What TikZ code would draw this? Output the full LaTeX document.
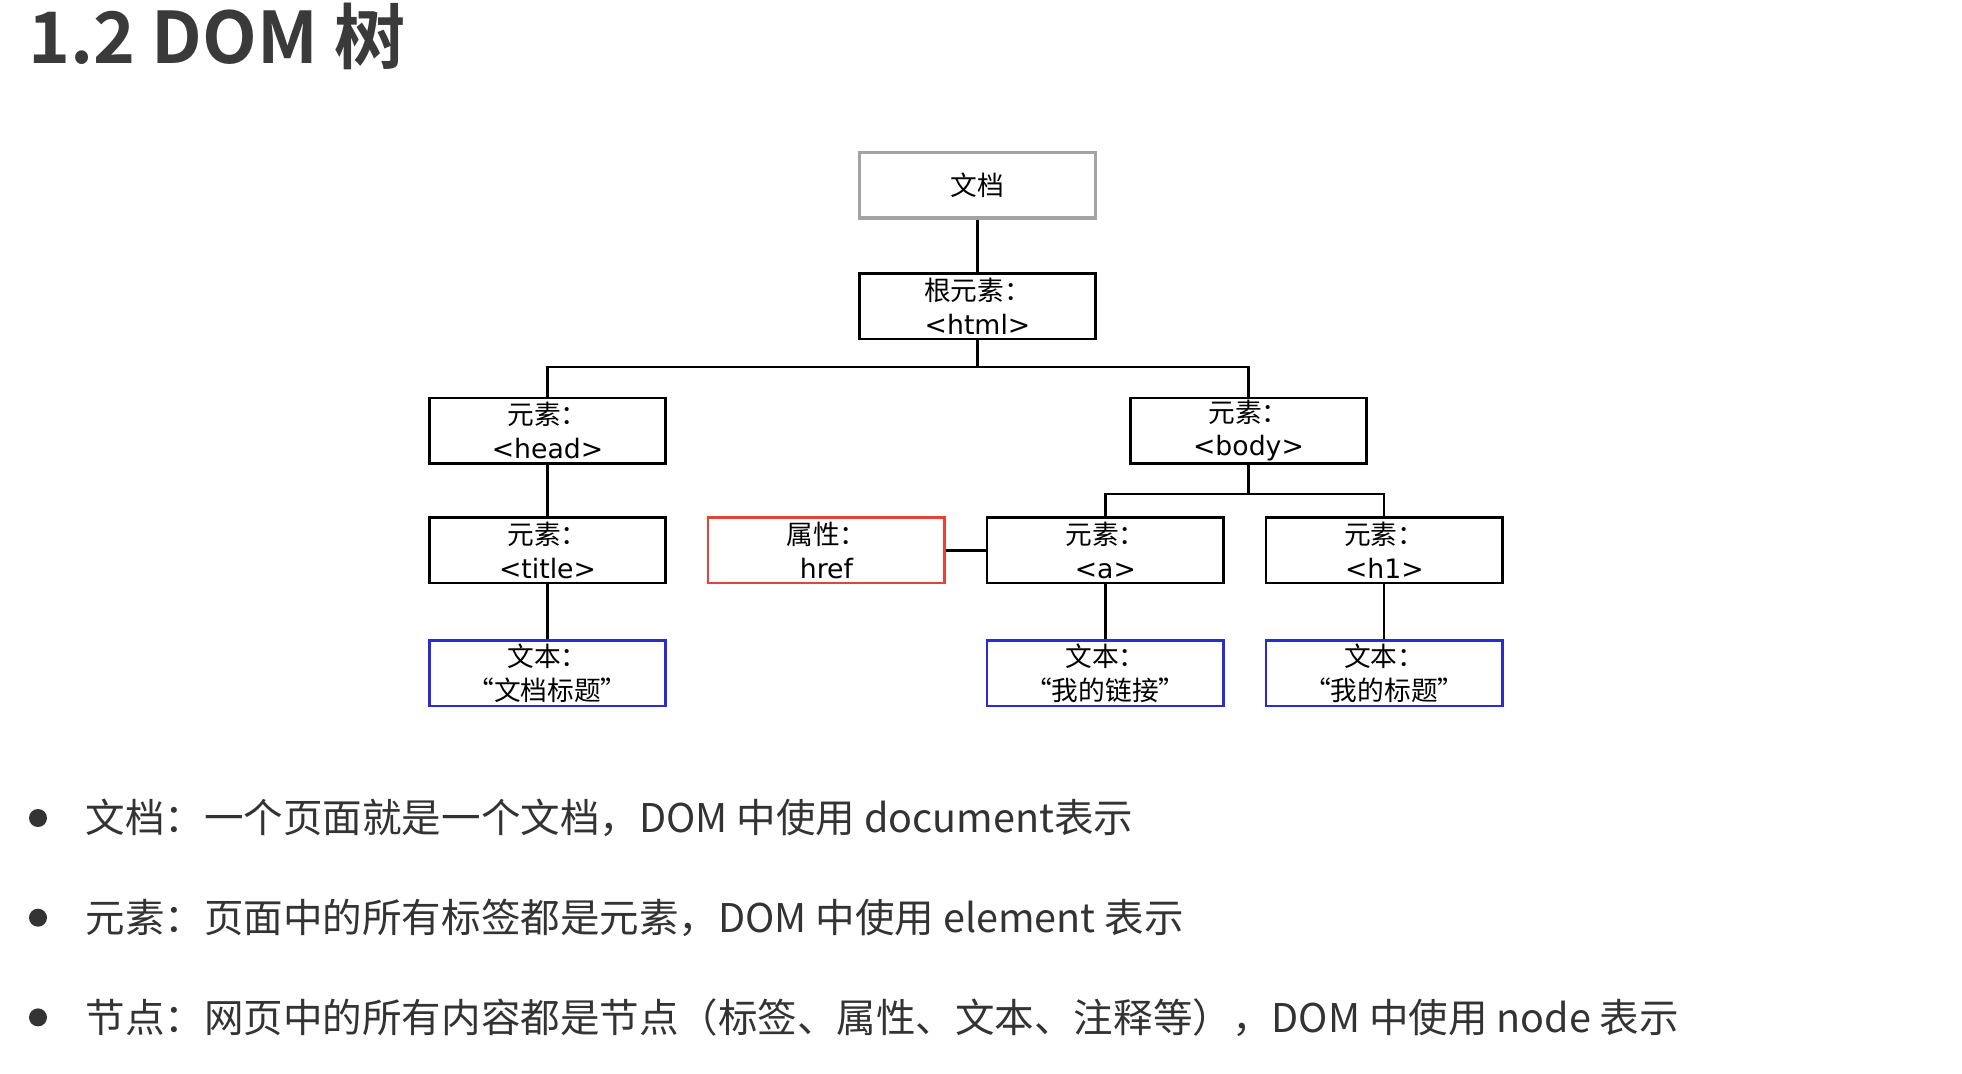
\documentclass[tikz,border=0pt]{standalone}
\usepackage{fontspec}
\setmainfont{Noto Sans CJK SC}[BoldFont={Noto Sans CJK SC Bold}]
\newfontfamily\tagfont{DejaVu Sans}
\usepackage{xcolor}
\usepackage{tikz}
\usetikzlibrary{positioning}
\definecolor{inkgray}{HTML}{333333}
\definecolor{titlegray}{HTML}{3A3A3A}
\definecolor{docgray}{HTML}{A3A3A3}
\definecolor{attred}{HTML}{E5423A}
\definecolor{txtblue}{HTML}{2B2BD6}
\newcommand{\tagname}[1]{{\tagfont <#1>}}
\tikzset{
  elbox/.style={rectangle, draw=black, line width=0.05cm, fill=white,
                minimum width=4.73cm, minimum height=1.31cm, align=center,
                inner sep=0pt, font=\fontsize{15.2}{19.3}\selectfont},
  docbox/.style={elbox, draw=docgray, line width=0.07cm},
  attbox/.style={elbox, draw=attred},
  txtbox/.style={elbox, draw=txtblue},
  link/.style={line width=0.045cm, draw=black},
}

\begin{document}
\begin{tikzpicture}[
    x=0.02cm, y=-0.02cm,
    ttl/.style={font=\fontsize{40.5}{48}\selectfont\bfseries, text=titlegray,
                inner sep=0pt},
    dot/.style={circle, fill=inkgray, minimum size=0.36cm, inner sep=0pt},
    item/.style={font=\fontsize{22.5}{28}\selectfont, text=inkgray,
                 inner sep=0pt},
  ]
  \useasboundingbox[fill=white] (0,0) rectangle (1962,1073);
  \node[ttl, anchor=base west] (ttl) at (28,63) {1.2 DOM 树};

  \node[docbox] (doc) at (977.5,185) {文档};
  \node[elbox, below=1.06cm of doc] (html) {根元素：\\\tagname{html}};
  \node[elbox] (head) at (547.5,430.5) {元素：\\\tagname{head}};
  \node[elbox] (body) at (1248.5,430.5) {元素：\\\tagname{body}};
  \node[elbox, below=1.04cm of head] (title) {元素：\\\tagname{title}};
  \node[attbox, right=0.8cm of title] (href) {属性：\\{\tagfont href}};
  \node[elbox, right=0.8cm of href] (a) {元素：\\\tagname{a}};
  \node[elbox, right=0.8cm of a] (h1) {元素：\\\tagname{h1}};
  \node[txtbox, below=1.1cm of title] (t1) {文本：\\“文档标题”};
  \node[txtbox, below=1.1cm of a] (t2) {文本：\\“我的链接”};
  \node[txtbox, below=1.1cm of h1] (t3) {文本：\\“我的标题”};

  \coordinate (hbus) at (977.5,367);
  \coordinate (bbus) at (1246,494);
  \draw[link] (html.south) -- (hbus);
  \draw[link] (head.north) |- (hbus) -| (body.north);
  \draw[link] (body.south) -- (body.south |- bbus);
  \draw[link] (a.north) |- (bbus) -| (h1.north);
  \foreach \a/\b in {doc/html,head/title,title/t1,a/t2,h1/t3,href/a}
    \draw[link] (\a) -- (\b);

  \node[dot] (d1) at (38,818) {};
  \node[dot, below=1.62cm of d1] (d2) {};
  \node[dot, below=1.62cm of d2] (d3) {};
  \node[item, right=0.76cm of d1] (l1)
    {文档：一个页面就是一个文档，DOM 中使用 document表示};
  \node[item, right=0.76cm of d2] (l2)
    {元素：页面中的所有标签都是元素，DOM 中使用 element 表示};
  \node[item, right=0.76cm of d3] (l3)
    {节点：网页中的所有内容都是节点（标签、属性、文本、注释等），DOM 中使用 node 表示};
\end{tikzpicture}
\end{document}
